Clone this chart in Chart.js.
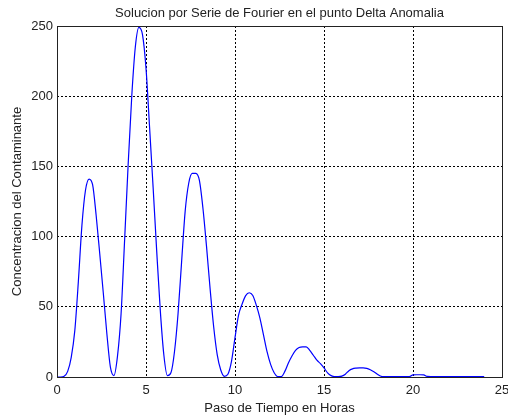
<!DOCTYPE html>
<html>
<head>
<meta charset="utf-8">
<script src="https://cdn.jsdelivr.net/npm/chart.js@4.4.0/dist/chart.umd.min.js"></script>
<style>
  body { margin: 0; background: #fff; }
</style>
</head>
<body>
<canvas id="fourierChart" width="508" height="417"></canvas>
<script>
// tiempo (horas) y concentración
const hours = [
  0.0, 0.2, 0.4, 0.6, 0.8, 1.0, 1.2, 1.4, 1.6, 1.8,
  2.0, 2.2, 2.4, 2.6, 2.8, 3.0, 3.2, 3.4, 3.6, 3.8,
  4.0, 4.2, 4.4, 4.6, 4.8, 5.0, 5.2, 5.4, 5.6, 5.8,
  6.0, 6.2, 6.4, 6.6, 6.8, 7.0, 7.2, 7.4, 7.6, 7.8,
  8.0, 8.2, 8.4, 8.6, 8.8, 9.0, 9.2, 9.4, 9.6, 9.8,
  10.0, 10.2, 10.4, 10.6, 10.8, 11.0, 11.2, 11.4, 11.6, 11.8,
  12.0, 12.2, 12.4, 12.6, 12.8, 13.0, 13.2, 13.4, 13.6, 13.8,
  14.0, 14.2, 14.4, 14.6, 14.8, 15.0, 15.2, 15.4, 15.6, 15.8,
  16.0, 16.2, 16.4, 16.6, 16.8, 17.0, 17.2, 17.4, 17.6, 17.8,
  18.0, 18.2, 18.4, 18.6, 18.8, 19.0, 19.2, 19.4, 19.6, 19.8,
  20.0, 20.2, 20.4, 20.6, 20.8, 21.0, 21.5, 22.0, 22.5, 23.0,
  23.5, 24.0
];
const conc = [
  0, 0, 0.5, 4, 14, 33, 68, 108, 133, 141,
  137, 115, 88, 60, 31, 7, 1, 15, 45, 98,
  152, 200, 235, 249, 244, 220, 178, 135, 90, 48,
  16, 1, 3, 18, 45, 82, 118, 138, 145, 145,
  140, 120, 93, 63, 36, 16, 5, 0.5, 2, 11,
  28, 44, 52, 58, 60, 58, 51, 42, 30, 18,
  9, 3, 0.3, 0.3, 4, 10, 15, 19, 21, 21.5,
  21.5, 19, 15.5, 12, 9.5, 6.5, 3, 1, 0.3, 0.3,
  0.6, 2, 4.5, 5.8, 6.3, 6.5, 6.5, 6.2, 5.2, 3.8,
  2, 0.5, 0.2, 0.2, 0.2, 0.2, 0.2, 0.2, 0.2, 0.3,
  1.5, 1.6, 1.6, 1.5, 0.4, 0.3, 0.3, 0.3, 0.3, 0.3,
  0.3, 0.3
];
const xTicks = [0, 5, 10, 15, 20, 25];
const yTicks = [0, 50, 100, 150, 200, 250];
const chartTitle = 'Solucion por Serie de Fourier en el punto Delta Anomalia';

const FONT = "'Liberation Sans', Arial, Helvetica, sans-serif";

// marco negro y titulo centrado sobre el area del grafico
const framePlugin = {
  id: 'frame',
  afterDraw(chart) {
    const { ctx, chartArea } = chart;
    ctx.save();
    ctx.strokeStyle = '#222';
    ctx.lineWidth = 1;
    ctx.strokeRect(chartArea.left + 0.5, chartArea.top + 0.5,
      chartArea.right - chartArea.left, chartArea.bottom - chartArea.top);

    ctx.fillStyle = '#222';
    ctx.font = '13px ' + FONT;
    ctx.textAlign = 'center';
    ctx.textBaseline = 'middle';
    ctx.fillText(chartTitle, (chartArea.left + chartArea.right) / 2, chartArea.top - 13);
    ctx.restore();
  }
};

const ctx = document.getElementById('fourierChart').getContext('2d');
new Chart(ctx, {
  type: 'line',
  data: {
    datasets: [{
      data: hours.map((h, i) => ({ x: h, y: conc[i] })),
      borderColor: '#0000ff',
      borderWidth: 1.2,
      pointRadius: 0,
      fill: false,
      cubicInterpolationMode: 'monotone'
    }]
  },
  options: {
    responsive: false,
    animation: false,
    layout: { padding: { top: 26, right: 6 } },
    plugins: {
      legend: { display: false },
      tooltip: { enabled: false },
      title: { display: false }
    },
    scales: {
      x: {
        type: 'linear',
        min: 0,
        max: 25,
        afterBuildTicks: scale => { scale.ticks = xTicks.map(v => ({ value: v })); },
        afterFit: scale => {
          scale.height = 40;
          scale.paddingLeft = 0;
          scale.paddingRight = 0;
        },
        ticks: { color: '#222', padding: 6, maxRotation: 0, font: { family: FONT, size: 13 } },
        grid: { color: '#000', lineWidth: 1, drawTicks: false },
        border: { display: false, dash: [2, 2] },
        title: {
          display: true,
          text: 'Paso de Tiempo en Horas',
          color: '#222',
          font: { family: FONT, size: 13 },
          padding: { top: 0, bottom: 1.2 }
        }
      },
      y: {
        min: 0,
        max: 250,
        afterBuildTicks: scale => { scale.ticks = yTicks.map(v => ({ value: v })); },
        afterFit: scale => {
          scale.width = 57;
          scale.paddingTop = 0;
          scale.paddingBottom = 0;
        },
        ticks: { color: '#222', padding: 4, font: { family: FONT, size: 13 } },
        grid: { color: '#000', lineWidth: 1, drawTicks: false },
        border: { display: false, dash: [2, 2] },
        title: {
          display: true,
          text: 'Concentracion del Contaminante',
          color: '#222',
          font: { family: FONT, size: 13 },
          padding: { top: 10, bottom: 0 }
        }
      }
    }
  },
  plugins: [framePlugin]
});
</script>
</body>
</html>
